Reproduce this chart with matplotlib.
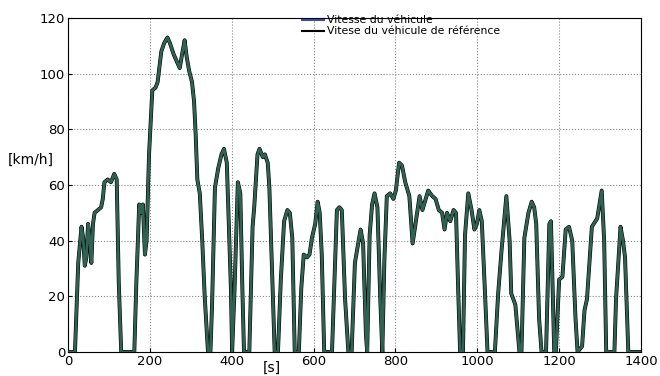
import numpy as np
import matplotlib
matplotlib.use('Agg')
import matplotlib.pyplot as plt

# temps [s] et vitesse [km/h]
t = [0, 17, 25, 33, 37, 41, 45, 49, 53, 57, 61, 65, 73, 81, 85, 89, 97, 105, 113, 119, 124, 130,
     162, 167, 174, 178, 183, 188, 192, 198, 206, 214, 219, 228, 235, 243, 249, 258, 267, 273, 280,
     285, 290, 296, 303, 308, 312, 316, 322, 328, 334, 342,
     348, 352, 359, 367, 375, 381, 388, 393, 398, 401, 407, 415, 421, 426, 430,
     443, 451, 455, 463, 468, 476, 481, 488, 492, 500, 505,
     513, 520, 528, 536, 542, 548, 554,
     564, 570, 576, 584, 590, 596, 604, 610, 615, 620, 626,
     645, 657, 663, 669, 677, 685,
     693, 701, 709, 715, 721, 728, 731, 737, 743, 749, 756, 763, 768,
     773, 779, 787, 795, 801, 809, 816, 824, 834, 842, 850, 859, 866, 874, 880, 890, 898, 906,
     914, 920, 926, 934, 942, 948, 953, 958,
     965, 970, 978, 986, 993, 999, 1005, 1011, 1018, 1025,
     1043, 1051, 1059, 1071, 1079, 1083, 1093, 1103,
     1108, 1115, 1125, 1133, 1139, 1144, 1151, 1157,
     1168, 1176, 1180, 1188, 1192, 1200, 1208, 1216, 1224, 1232, 1240, 1245, 1256, 1262, 1268,
     1280, 1293, 1304, 1310, 1315, 1335, 1339, 1350, 1356, 1361, 1369, 1400]
v_ref = [0, 0, 32, 45, 41, 31, 34, 46, 41, 32, 46, 50, 51, 52, 55, 61, 62, 61, 64, 62, 25, 0,
         0, 25, 53, 50, 53, 35, 40, 71, 94, 95, 97, 108, 111, 113, 111, 107, 104, 102, 108,
         112, 106, 101, 97, 90, 78, 62, 57, 40, 20, 0,
         0, 17, 59, 66, 71, 73, 68, 45, 23, 0, 23, 61, 57, 23, 0,
         0, 45, 52, 71, 73, 70, 71, 68, 59, 23, 0,
         0, 26, 47, 51, 50, 41, 0,
         0, 23, 35, 34, 35, 41, 46, 54, 50, 35, 0,
         0, 51, 52, 51, 19, 0,
         0, 32, 39, 44, 39, 6, 0, 42, 53, 57, 52, 19, 0,
         33, 56, 57, 55, 58, 68, 67, 61, 56, 39, 47, 56, 51, 55, 58, 56, 55, 51,
         50, 44, 50, 47, 51, 50, 24, 0,
         0, 42, 57, 51, 44, 46, 51, 47, 24, 0,
         0, 21, 36, 56, 40, 21, 17, 0,
         0, 41, 50, 54, 52, 46, 12, 0,
         0, 46, 47, 0, 0, 26, 27, 44, 45, 40, 12, 0, 2, 15, 19,
         45, 48, 58, 40, 0, 0, 19, 45, 40, 34, 0, 0]
v_veh = v_ref  # la vitesse du véhicule suit la référence

xticks = [0, 200, 400, 600, 800, 1000, 1200, 1400]
yticks = [0, 20, 40, 60, 80, 100, 120]

fig = plt.figure(figsize=(6.6, 3.76), dpi=100)
ax = fig.add_axes([68/660, 1-352/376, 573/660, 334/376])

ax.plot(t, v_ref, color='black', lw=2.8, label='Vitese du véhicule de référence', zorder=2)
ax.plot(t, v_veh, color='#2f6252', lw=2.0, label='Vitesse du véhicule', zorder=3)

ax.set_xlim(0, 1400)
ax.set_ylim(0, 120)
ax.set_xticks(xticks)
ax.set_yticks(yticks)
ax.tick_params(direction='in', labelsize=9.5, length=3, pad=2)
ax.grid(True, linestyle=':', color='#888888', linewidth=0.8)
for s in ax.spines.values():
    s.set_linewidth(0.8)

fig.text(8/660, 1-160/376, '[km/h]', fontsize=10, va='center', ha='left')
fig.text(272/660, 1-368/376, '[s]', fontsize=10, va='center', ha='center')

h, l = ax.get_legend_handles_labels()
leg = fig.legend([h[1], h[0]], [l[1], l[0]], loc='upper left',
                 bbox_to_anchor=(297/660, 1-10/376), frameon=False, fontsize=7.8,
                 handlelength=2.0, handletextpad=0.3, labelspacing=0.1, borderpad=0)
leg.legend_handles[0].set_color('#3a4f9a')
leg.legend_handles[0].set_linewidth(1.5)
leg.legend_handles[1].set_linewidth(1.5)

fig.savefig('out.png', dpi=100)
